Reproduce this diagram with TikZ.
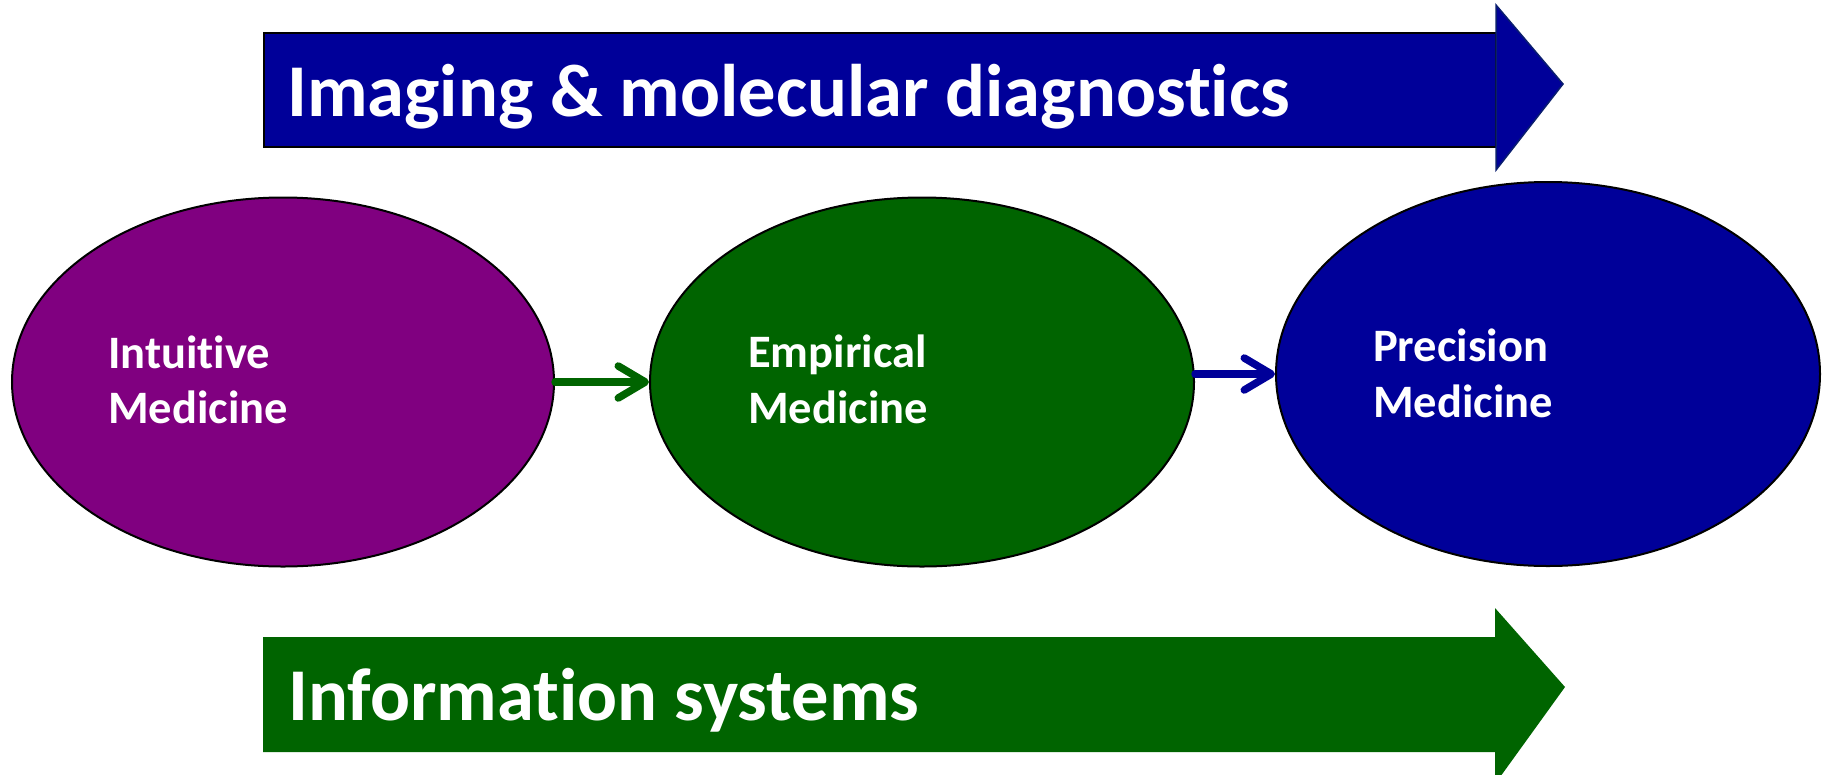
\documentclass[tikz,border=0pt]{standalone}
\usepackage{fontspec}
\setmainfont{Carlito}[Ligatures={NoCommon}]
\usetikzlibrary{shapes.geometric,arrows.meta}
\definecolor{dkblue}{RGB}{0,0,153}
\definecolor{headline}{RGB}{10,30,110}
\definecolor{purp}{RGB}{128,0,128}
\definecolor{dkgreen}{RGB}{0,100,0}
\tikzset{
  bigtext/.style={inner sep=0pt, text=white, font=\fontsize{74.5}{80}\selectfont\bfseries, anchor=base west},
  lbl/.style={inner sep=0pt, text=white, font=\fontsize{46.5}{50}\selectfont\bfseries, anchor=base west},
  oval/.style={ellipse, draw=black, line width=2pt, inner sep=0pt},
  conn/.style={line width=7.5pt, line cap=round, -{Straight Barb[length=27pt,width=32pt,round]}},
}
\begin{document}
\begin{tikzpicture}[x=1pt,y=-1pt]
\useasboundingbox (0,0) rectangle (1825,774);
\clip (0,0) rectangle (1825,774);
% top arrow
\fill[dkblue, draw=black, line width=2.5pt] (264,33) rectangle (1496,147);
\filldraw[fill=dkblue, draw=headline, line width=1.5pt] (1496,5) -- (1563,84) -- (1496,170) -- cycle;
\node[bigtext] (topt) at (287,116) {Imaging \& molecular diagnostics};
% bottom arrow
\fill[dkgreen] (263,637) -- (1495,637) -- (1495,608) -- (1565,687) -- (1495,784) -- (1495,752) -- (263,752) -- cycle;
\node[bigtext] (bott) at (288,720) {Information systems};
% ellipses
\node[oval, fill=purp, minimum width=542pt, minimum height=369pt] (e1) at (283,382) {};
\node[oval, fill=dkgreen, minimum width=544pt, minimum height=369pt] (e2) at (922,382) {};
\node[oval, fill=dkblue, minimum width=544pt, minimum height=384pt] (e3) at (1548,374) {};
\node[lbl] (l1a) at (108,368) {Intuitive};
\node[lbl] (l1b) at (108,423) {Medicine};
\node[lbl] (l2a) at (748,367) {Empirical};
\node[lbl] (l2b) at (748,423) {Medicine};
\node[lbl] (l3a) at (1373,361) {Precision};
\node[lbl] (l3b) at (1373,417) {Medicine};
% connectors
\draw[conn, draw=dkgreen] (e1.east) -- (e2.west);
\draw[conn, draw=dkblue] (e2.east |- e3.west) -- (e3.west);
\end{tikzpicture}
\end{document}
